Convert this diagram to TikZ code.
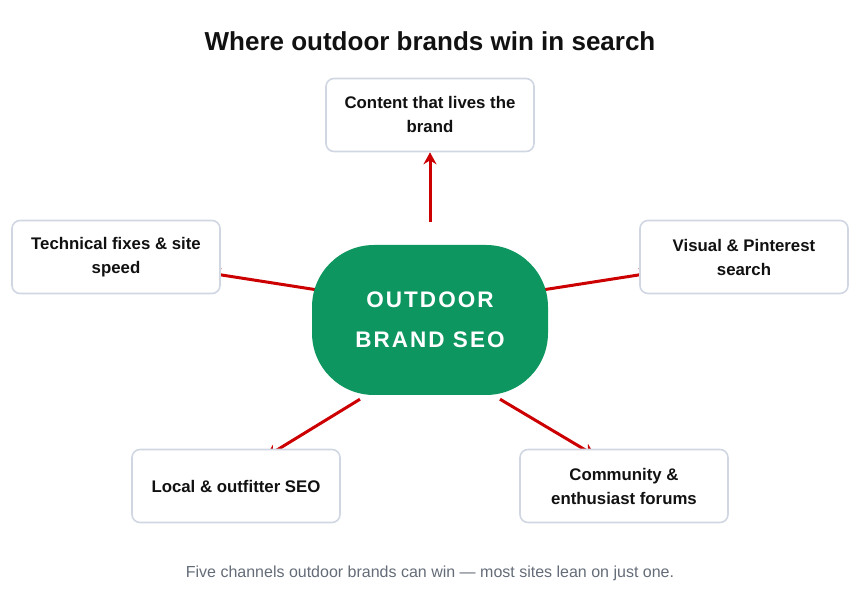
\documentclass[tikz,border=0pt]{standalone}
\usepackage{xcolor}
\usepackage{fontspec}
\setmainfont{Liberation Sans}
\usepackage{tikz}
\usetikzlibrary{arrows.meta,calc,positioning,backgrounds}

\definecolor{hubgreen}{RGB}{14,150,96}
\definecolor{linkred}{RGB}{204,0,0}
\definecolor{boxline}{RGB}{208,215,226}
\definecolor{inkdark}{RGB}{17,17,17}
\definecolor{notegray}{RGB}{100,108,120}

\begin{document}
\begin{tikzpicture}[x=1pt,y=1pt,link/.style = {line width=3pt,draw=linkred,-{Stealth[length=12pt,width=13pt]}}]
					\tikzset{channel/.style={draw=boxline,line width=1.6pt,rectangle,rounded corners=8pt,fill=white,minimum width=208pt,minimum height=73pt,inner sep=0pt,align=center,text=inkdark,font=\fontsize{16.8}{24}\selectfont\bfseries}}
					\tikzset{hub/.style={rectangle,rounded corners=62pt,fill=hubgreen,minimum width=236pt,minimum height=150pt,inner sep=0pt,align=center,text=white,font=\fontsize{22.5}{40}\selectfont\bfseries\addfontfeatures{LetterSpace=9}}}

					\useasboundingbox (0,0) rectangle (860,600);

					% Title and note
					\node[font=\fontsize{26}{30}\selectfont\bfseries, text=inkdark] (title) at (430,559) {Where outdoor brands win in search};
					\node[font=\fontsize{16}{19}\selectfont, text=notegray] (note) at (430,27) {Five channels outdoor brands can win --- most sites lean on just one.};

					% Hub
					\node[hub] (core) at (430,280) {OUTDOOR\\BRAND SEO};

					% Channels
					\node[channel] (content) at (430,485) {Content that lives the\\brand};
					\node[channel] (technical) at (116,343) {Technical fixes \& site\\speed};
					\node[channel] (visual) at (744,343) {Visual \& Pinterest\\search};
					\node[channel] (local) at (236,114) {Local \& outfitter SEO};
					\node[channel] (community) at (624,114) {Community \&\\enthusiast forums};

					% Links
					\begin{pgfonlayer}{background}
						\draw[link] ([yshift=23pt]core.north) -- (content.south);
						\draw[link] ([shift={(6,30)}]core.west) -- ([shift={(-12,-16)}]technical.east);
						\draw[link] ([shift={(-6,30)}]core.east) -- ([shift={(12,-16)}]visual.west);
						\draw[link] ([shift={(-70,-4)}]core.south) -- ([shift={(30,-8)}]local.north);
						\draw[link] ([shift={(70,-4)}]core.south) -- ([shift={(-29,-7)}]community.north);
					\end{pgfonlayer}

				\end{tikzpicture}
\end{document}
